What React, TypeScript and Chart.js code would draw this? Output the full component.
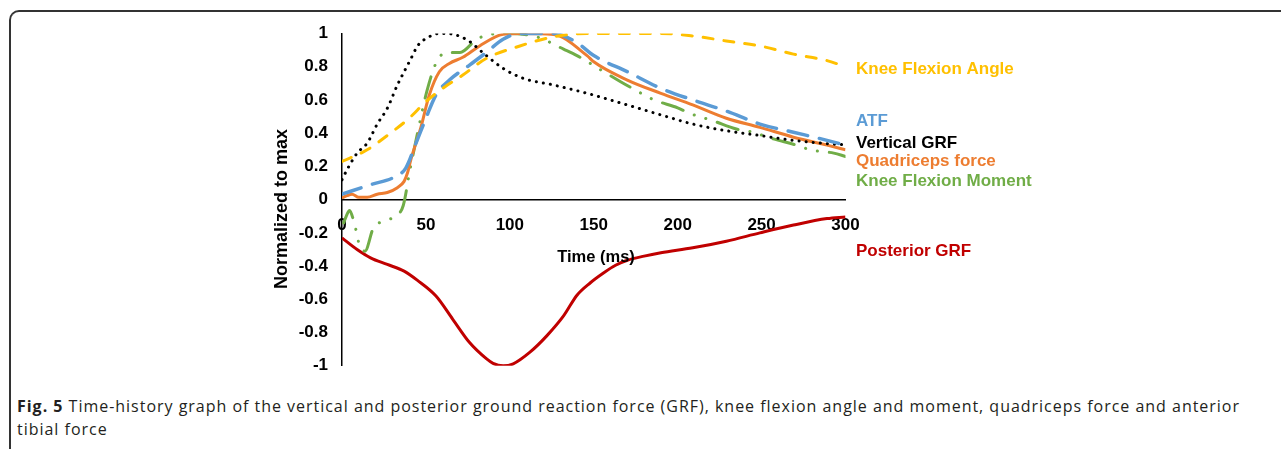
import React, { useEffect, useLayoutEffect, useRef } from "react";
import { Chart, registerables } from "chart.js";

Chart.register(...registerables);

// ---- data (time in ms, value normalized to max) ----
const xTicks = [0, 50, 100, 150, 200, 250, 300];

const kneeAngleT = [0, 15, 27, 40, 50, 60, 72, 86, 106, 126, 146, 160, 190, 209, 229, 249, 269, 289, 300];
const kneeAngleV = [0.23, 0.3, 0.386, 0.49, 0.59, 0.67, 0.75, 0.85, 0.925, 0.98, 1.0, 1.0, 1.0, 0.985, 0.955, 0.925, 0.876, 0.837, 0.8];

const atfT = [0, 17, 32, 38, 44, 50, 56, 64, 76, 86, 96, 106, 126, 140, 150, 170, 190, 209, 229, 249, 269, 289, 300];
const atfV = [0.033, 0.09, 0.14, 0.19, 0.337, 0.49, 0.63, 0.72, 0.81, 0.886, 0.965, 1.0, 1.0, 0.945, 0.867, 0.77, 0.67, 0.6, 0.533, 0.455, 0.406, 0.357, 0.328];

const vgrfT = [0, 3, 9, 15, 21, 27, 33, 37, 41, 45, 51, 58, 62, 74, 86, 96, 108, 126, 146, 170, 190, 209, 229, 249, 269, 289, 300];
const vgrfV = [0.12, 0.18, 0.28, 0.34, 0.455, 0.55, 0.69, 0.77, 0.847, 0.925, 0.975, 1.0, 1.0, 0.965, 0.867, 0.79, 0.73, 0.69, 0.64, 0.57, 0.51, 0.455, 0.415, 0.386, 0.357, 0.337, 0.33];

const quadT = [0, 3, 6, 10, 15, 21, 27, 33, 37, 39, 41, 47, 52, 58, 64, 72, 82, 96, 106, 126, 146, 150, 170, 190, 209, 229, 249, 269, 289, 300];
const quadV = [0.01, 0.024, 0.033, 0.014, 0.014, 0.033, 0.043, 0.072, 0.11, 0.16, 0.24, 0.435, 0.63, 0.77, 0.82, 0.857, 0.925, 0.995, 1.0, 0.994, 0.867, 0.83, 0.72, 0.64, 0.57, 0.49, 0.435, 0.376, 0.328, 0.3];

const momentT = [1, 2.5, 4.5, 7, 8.5, 10.5, 13.7, 18.7, 24.6, 31.6, 36.5, 40.5, 44.5, 50.5, 56.4, 62.4, 70.3, 80.3, 88.2, 98, 116, 132, 140, 156, 166, 173, 186, 200, 207, 221, 235, 243, 257, 271, 279, 293, 300];
const momentV = [-0.14, -0.1, -0.065, -0.13, -0.19, -0.28, -0.31, -0.17, -0.13, -0.1, -0.035, 0.18, 0.376, 0.65, 0.83, 0.886, 0.886, 0.965, 0.994, 1.0, 0.98, 0.906, 0.867, 0.77, 0.71, 0.67, 0.6, 0.553, 0.52, 0.475, 0.425, 0.41, 0.366, 0.327, 0.3, 0.28, 0.26];

const postT = [0, 9, 17, 27, 37, 45, 56, 66, 76, 86, 90, 96, 102, 112, 122, 132, 140, 148, 156, 163, 170, 180, 190, 209, 229, 249, 269, 289, 300];
const postV = [-0.23, -0.3, -0.35, -0.39, -0.43, -0.486, -0.58, -0.72, -0.86, -0.957, -0.985, -1.0, -0.988, -0.918, -0.82, -0.7, -0.575, -0.5, -0.44, -0.395, -0.365, -0.34, -0.32, -0.29, -0.25, -0.2, -0.153, -0.114, -0.104];

const seriesNames = ["Knee Flexion Angle", "ATF", "Vertical GRF", "Quadriceps force", "Knee Flexion Moment", "Posterior GRF"];
const seriesColors = ["#FFC000", "#5B9BD5", "#000000", "#ED7D31", "#70AD47", "#C00000"];
const labelY = [69, 121, 143, 161, 181, 251];

const captionBold = "Fig. 5";
const captionLine1 = " Time-history graph of the vertical and posterior ground reaction force (GRF), knee flexion angle and moment, quadriceps force and anterior";
const captionLine2 = "tibial force";

const zip = (t: number[], v: number[]) => t.map((x, i) => ({ x, y: v[i] }));

const FONT = "'Liberation Sans', Arial, sans-serif";

const labelPlugin = {
  id: "endLabels",
  afterDraw(chart: any) {
    const ctx = chart.ctx;
    ctx.save();
    ctx.font = `bold 17px ${FONT}`;
    ctx.textBaseline = "middle";
    ctx.textAlign = "left";
    seriesNames.forEach((n, i) => {
      ctx.fillStyle = seriesColors[i];
      ctx.fillText(n, 856, labelY[i]);
    });
    // axis titles
    ctx.fillStyle = "#000";
    ctx.textAlign = "center";
    ctx.font = `bold 16.5px ${FONT}`;
    ctx.fillText("Time (ms)", 596, 257);
    ctx.translate(282, 209);
    ctx.rotate(-Math.PI / 2);
    ctx.font = `bold 18px ${FONT}`;
    ctx.fillText("Normalized to max", 0, 0);
    ctx.restore();
  },
};

export default function App() {
  const ref = useRef<HTMLCanvasElement>(null);
  const line1Ref = useRef<HTMLSpanElement>(null);

  useLayoutEffect(() => {
    const el = line1Ref.current;
    if (!el) return;
    el.style.letterSpacing = "0px";
    const w = el.getBoundingClientRect().width;
    const n = (captionBold + captionLine1).length;
    const target = 1223;
    const ls = (target - w) / n;
    el.style.letterSpacing = `${ls}px`;
    const l2 = el.parentElement?.querySelector(".l2") as HTMLElement | null;
    if (l2) l2.style.letterSpacing = `${ls}px`;
  }, []);

  useEffect(() => {
    if (!ref.current) return;
    const common = { pointRadius: 0, fill: false, cubicInterpolationMode: "monotone" as const };
    const chart = new Chart(ref.current, {
      type: "line",
      data: {
        datasets: [
          { ...common, label: seriesNames[0], data: zip(kneeAngleT, kneeAngleV), borderColor: seriesColors[0], borderWidth: 3, borderDash: [10, 11], borderCapStyle: "round" },
          { ...common, label: seriesNames[1], data: zip(atfT, atfV), borderColor: seriesColors[1], borderWidth: 3.5, borderDash: [20, 12], borderCapStyle: "round" },
          { ...common, label: seriesNames[2], data: zip(vgrfT, vgrfV), borderColor: seriesColors[2], borderWidth: 3, borderDash: [0.1, 7], borderCapStyle: "round" },
          { ...common, label: seriesNames[3], data: zip(quadT, quadV), borderColor: seriesColors[3], borderWidth: 3 },
          { ...common, label: seriesNames[4], data: zip(momentT, momentV), borderColor: seriesColors[4], borderWidth: 3, borderDash: [22, 12, 0.1, 12, 0.1, 12], borderCapStyle: "round" },
          { ...common, label: seriesNames[5], data: zip(postT, postV), borderColor: seriesColors[5], borderWidth: 3 },
        ],
      },
      options: {
        responsive: false,
        animation: false,
        devicePixelRatio: 1,
        layout: { padding: { left: 282, right: 435.5, top: 33.5, bottom: 16 } },
        plugins: { legend: { display: false }, tooltip: { enabled: false } },
        scales: {
          x: {
            type: "linear",
            min: 0,
            max: 300,
            position: { y: 0 },
            afterBuildTicks: (s: any) => { s.ticks = xTicks.map((v) => ({ value: v })); },
            grid: { display: false, drawTicks: false },
            border: { display: true, color: "#000", width: 1.5 },
            ticks: { color: "#000", font: { family: FONT, size: 17, weight: "bold" }, padding: 15, maxRotation: 0 },
          },
          y: {
            type: "linear",
            min: -1,
            max: 1,
            position: "left",
            afterFit: (s: any) => { s.width = 60; },
            grid: { display: false, drawTicks: false },
            border: { display: true, color: "#000", width: 1.5 },
            ticks: {
              stepSize: 0.2,
              color: "#000",
              font: { family: FONT, size: 17, weight: "bold" },
              padding: 14,
              callback: (v: any) => String(Number(Number(v).toFixed(1))),
            },
          },
        },
      },
      plugins: [labelPlugin],
    });
    return () => chart.destroy();
  }, []);

  return (
    <div style={{ position: "fixed", left: 0, top: 0, width: 1281, height: 449, overflow: "hidden", background: "#fff" }}>
      <div
        style={{
          position: "absolute",
          left: 9,
          top: 10,
          width: 1272,
          height: 439,
          borderLeft: "2px solid #333",
          borderTop: "2px solid #333",
          borderTopLeftRadius: 10,
          boxSizing: "border-box",
        }}
      />
      <canvas ref={ref} width={1281} height={390} style={{ position: "absolute", left: 0, top: 0, width: 1281, height: 390 }} />
      <div
        style={{
          position: "absolute",
          left: 17,
          top: 395,
          width: 1262,
          whiteSpace: "nowrap",
          fontFamily: "'Open Sans', 'Noto Sans', sans-serif",
          fontSize: 16,
          lineHeight: "23px",
          color: "#231f20",
        }}
      >
        <span ref={line1Ref}>
          <b>{captionBold}</b>
          {captionLine1}
        </span>
        <br />
        <span className="l2">{captionLine2}</span>
      </div>
    </div>
  );
}
